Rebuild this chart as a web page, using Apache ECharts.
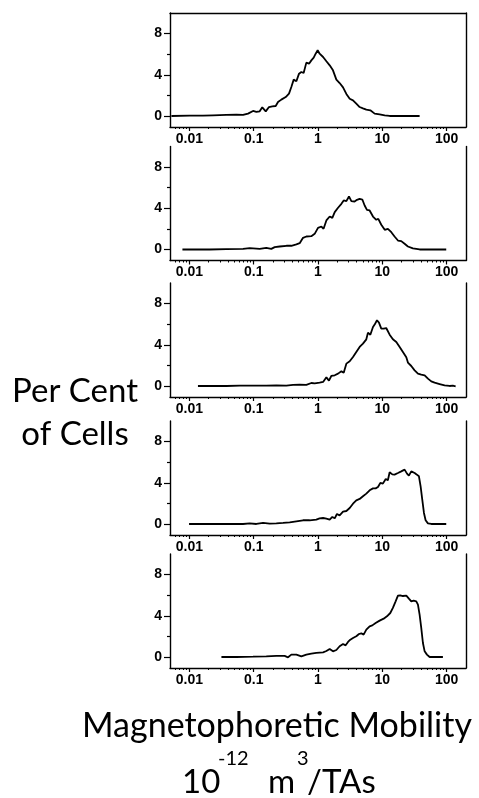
<!DOCTYPE html>
<html><head><meta charset="utf-8">
<script src="https://cdn.jsdelivr.net/npm/echarts@6/dist/echarts.min.js"></script>
<style>html,body{margin:0;padding:0;background:#fff}#c{width:479px;height:798px}</style>
</head><body><div id="c"></div>
<script>
// ---- data ----
const xTickValues = [0.01, 0.1, 1, 10, 100];
const xTickLabels = ['0.01', '0.1', '1', '10', '100'];
const xMinorMultipliers = [2, 3, 4, 5, 6, 7, 8, 9];
const yLabelValues = [0, 4, 8];
const yMinorTickValues = [2, 6];

const p1Mobility = [0.00526,0.0101,0.0163,0.0233,0.0376,0.0538,0.0683,0.0817,0.0977,0.110,0.124,0.136,0.154,0.173,0.195,0.220,0.239,0.269,0.315,0.354,0.385,0.419,0.461,0.507,0.551,0.598,0.659,0.725,0.788,0.857,0.920,0.988,1.06,1.20,1.35,1.52,1.71,1.93,2.17,2.45,2.76,3.11,3.50,3.94,4.44,5.00,5.64,6.51,7.60,9.08,10.9,13.0,38.0];
const p1Percent  = [0,0.03,0.03,0.06,0.1,0.13,0.1,0.23,0.49,0.39,0.45,0.84,0.45,0.87,0.94,0.97,1.36,1.59,1.84,2.17,2.82,3.53,3.37,4.11,4.27,4.17,5.18,5.08,5.40,5.66,6.05,6.38,6.05,5.73,5.31,4.92,4.43,3.53,3.2,2.78,2.14,1.68,1.52,1.2,0.87,0.74,0.61,0.55,0.23,0.16,0.06,0,0];

const p2Mobility = [0.0078,0.0207,0.0376,0.0683,0.0867,0.124,0.157,0.188,0.212,0.254,0.322,0.385,0.461,0.519,0.585,0.659,0.788,0.888,1.0,1.13,1.22,1.35,1.52,1.67,1.82,2.05,2.31,2.51,2.76,3.03,3.30,3.71,4.04,4.44,4.89,5.31,5.77,6.35,7.16,8.06,8.66,9.64,10.9,12.2,13.8,15.5,17.5,19.7,22.2,25.0,29.9,38.0,98.6];
const p2Percent  = [0,0,0.03,0.06,0.13,0.06,0.16,0.06,0.23,0.29,0.36,0.36,0.49,0.61,1.13,1.26,1.29,1.52,2.1,2.23,2.01,2.82,3.2,3.07,3.63,4.05,4.43,4.76,4.69,5.15,4.69,4.66,4.82,4.92,4.85,4.27,3.85,3.79,3.2,2.88,2.98,2.4,1.91,2.01,1.68,1.26,0.87,0.81,0.55,0.29,0.1,0,0];

const p3Mobility = [0.0136,0.0376,0.0607,0.0977,0.157,0.225,0.322,0.409,0.519,0.659,0.788,0.888,1.06,1.20,1.35,1.48,1.61,1.82,2.05,2.31,2.51,2.76,3.11,3.50,3.94,4.44,5.00,5.64,5.98,6.51,7.16,7.60,8.26,8.87,9.64,10.5,11.5,13.0,14.6,16.5,18.6,20.9,23.6,25.0,28.2,31.8,35.8,40.3,45.5,51.2,57.7,65.0,77.8,93.0,111,125,138];
const p3Percent  = [0,0,0.03,0.03,0.03,0.06,0.03,0.1,0.13,0.1,0.29,0.26,0.32,0.39,0.84,0.52,0.97,1.04,1.2,1.42,1.29,2.17,2.4,2.82,3.3,3.79,4.11,4.53,5.18,4.98,5.73,5.96,6.38,6.15,5.57,5.57,5.63,4.98,4.53,4.27,3.79,3.3,2.78,2.27,1.94,1.52,1.2,1.1,1.04,0.71,0.45,0.32,0.19,0.06,0,0.03,-0.03];

const p4Mobility = [0.00989,0.0683,0.0867,0.110,0.140,0.177,0.225,0.286,0.363,0.461,0.585,0.742,0.942,1.06,1.20,1.35,1.52,1.67,1.82,1.97,2.17,2.45,2.76,3.11,3.50,3.94,4.44,5.00,5.64,6.35,7.16,7.87,8.56,9.31,10.2,11.3,12.2,13.0,14.3,15.5,17.5,19.7,22.2,24.2,25.9,28.2,31.8,34.5,37.1,39.4,41.8,44.4,47.1,51.2,57.7,98.6];
const p4Percent  = [0,0,0.06,0,0.1,0.03,0.06,0.1,0.16,0.26,0.36,0.36,0.42,0.55,0.58,0.52,0.42,0.68,0.55,0.97,0.84,1.2,1.26,1.55,1.97,2.3,2.43,2.69,2.95,3.27,3.46,3.46,3.59,3.98,3.92,4.37,4.24,5.02,4.82,4.79,4.95,5.11,5.28,4.89,4.69,5.11,4.95,4.79,4.63,3.66,2.36,1.07,0.36,0.06,0,0];

const p5Mobility = [0.0315,0.0538,0.0977,0.157,0.225,0.303,0.342,0.385,0.461,0.551,0.659,0.788,0.942,1.20,1.35,1.52,1.71,1.93,2.17,2.45,2.69,2.93,3.18,3.50,3.94,4.34,4.71,5.12,5.64,6.35,6.99,7.87,9.08,10.5,11.8,13.3,14.6,16.1,17.5,19.0,20.9,23.6,25.9,28.2,30.7,33.7,35.8,38.0,40.3,42.8,45.5,49.4,54.4,87.5];
const p5Percent  = [0,0,0.03,0.06,0.1,0.1,-0.03,0.23,0.23,0.06,0.23,0.32,0.39,0.45,0.58,0.78,0.55,0.68,1.04,1.26,1.13,1.46,1.68,1.84,2.01,2.23,2.3,2.17,2.65,2.98,3.07,3.3,3.53,3.72,3.95,4.27,4.76,5.4,5.96,5.99,5.92,5.96,5.66,5.4,5.47,5.4,5.08,4.11,2.82,1.36,0.55,0.23,0,0];

const panels = [
  [p1Mobility, p1Percent],
  [p2Mobility, p2Percent],
  [p3Mobility, p3Percent],
  [p4Mobility, p4Percent],
  [p5Mobility, p5Percent]
];

// ---- layout ----
const X_MIN = 0.005, X_MAX = 200, Y_MIN = -1.07, Y_MAX = 10;
const gridTops = [13, 146.5, 283, 421, 554];
const gridHeight = 114;
const AX = {color: '#000', width: 1.4};
const TK = {color: '#000', width: 1.2};
const TICKFONT = {color: '#000', fontFamily: 'Liberation Sans', fontWeight: 'bold', fontSize: 14};

const minorTicks = [];
[0.001, 0.01, 0.1, 1, 10, 100].forEach(d => xMinorMultipliers.forEach(m => {
  const v = +(d * m).toPrecision(3);
  if (v > X_MIN && v < X_MAX) minorTicks.push(v);
}));

function xLabel(v) {
  let best = 0, bd = Infinity;
  xTickValues.forEach((t, k) => { const d = Math.abs(Math.log10(v) - Math.log10(t)); if (d < bd) { bd = d; best = k; } });
  return xTickLabels[best];
}

const grid = [], xAxis = [], yAxis = [], series = [];
panels.forEach((p, i) => {
  grid.push({left: 170, width: 296, top: gridTops[i], height: gridHeight, containLabel: false});
  const xi = xAxis.length;
  xAxis.push({type: 'log', logBase: 10, gridIndex: i, min: X_MIN, max: X_MAX, position: 'bottom',
    axisLine: {show: true, onZero: false, lineStyle: AX},
    axisTick: {show: true, customValues: xTickValues, length: 4, lineStyle: TK},
    axisLabel: Object.assign({customValues: xTickValues, formatter: xLabel, margin: 5}, TICKFONT),
    splitLine: {show: false}, minorTick: {show: false}});
  xAxis.push({type: 'log', logBase: 10, gridIndex: i, min: X_MIN, max: X_MAX, position: 'bottom',
    axisLine: {show: false, onZero: false},
    axisTick: {show: true, customValues: minorTicks, length: 2, lineStyle: {color: '#000', width: 1}},
    axisLabel: {show: false}, splitLine: {show: false}});
  if (i === 0) {
    xAxis.push({type: 'log', logBase: 10, gridIndex: i, min: X_MIN, max: X_MAX, position: 'top',
      axisLine: {show: true, onZero: false, lineStyle: AX},
      axisTick: {show: false}, axisLabel: {show: false}, splitLine: {show: false}});
  }
  const yi = yAxis.length;
  yAxis.push({type: 'value', gridIndex: i, min: Y_MIN, max: Y_MAX, position: 'left',
    axisLine: {show: true, onZero: false, lineStyle: AX},
    axisTick: {show: true, customValues: yLabelValues, length: 6, lineStyle: TK},
    axisLabel: Object.assign({customValues: yLabelValues, margin: 8}, TICKFONT),
    splitLine: {show: false}});
  yAxis.push({type: 'value', gridIndex: i, min: Y_MIN, max: Y_MAX, position: 'left',
    axisLine: {show: false, onZero: false},
    axisTick: {show: true, customValues: yMinorTickValues, length: 3, lineStyle: TK},
    axisLabel: {show: false}, splitLine: {show: false}});
  yAxis.push({type: 'value', gridIndex: i, min: Y_MIN, max: Y_MAX, position: 'right',
    axisLine: {show: true, onZero: false, lineStyle: AX},
    axisTick: {show: false}, axisLabel: {show: false}, splitLine: {show: false}});
  series.push({type: 'line', xAxisIndex: xi, yAxisIndex: yi,
    data: p[0].map((x, k) => [x, p[1][k]]),
    symbol: 'none', showSymbol: false, smooth: false,
    lineStyle: {color: '#000', width: 1.8}, silent: true});
});

const BIG = 'Lato';
function txt(text, x, y, size, align) {
  return {type: 'text', x: x, y: y, silent: true,
    style: {text: text, fontFamily: BIG, fontSize: size, fill: '#000', textAlign: align, textVerticalAlign: 'middle'}};
}

const chart = echarts.init(document.getElementById('c'), null, {renderer: 'canvas'});
chart.setOption({
  animation: false,
  backgroundColor: '#fff',
  grid, xAxis, yAxis, series,
  graphic: [
    txt('Per Cent', 75, 391, 33, 'center'),
    txt('of Cells', 75, 434, 33, 'center'),
    txt('Magnetophoretic Mobility', 277, 726, 34, 'center'),
    txt('10', 182, 782, 33, 'left'),
    txt('-12', 218, 759, 20, 'left'),
    txt('m', 268, 782, 33, 'left'),
    txt('3', 297, 759, 20, 'left'),
    txt('/TAs', 307, 782, 33, 'left')
  ]
});
</script>
</body></html>
